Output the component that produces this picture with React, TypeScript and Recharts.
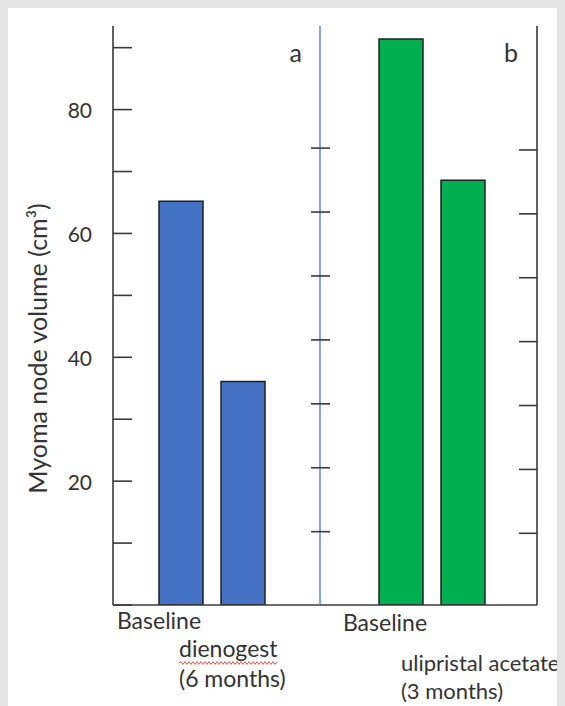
import { Bar, BarChart, Label, XAxis, YAxis } from "recharts";

// panel a: dienogest, panel b: ulipristal acetate (volume, cm3)
const panelALabels = [["Baseline"], ["dienogest", "(6 months)"]];
const panelAVolumes = [65.2, 36.1];
const panelBLabels = [["Baseline"], ["ulipristal acetate", "(3 months)"]];
const panelBVolumes = [91.4, 68.6];

const volumeTicks = [0, 10, 20, 30, 40, 50, 60, 70, 80, 90];
const volumeTickLabels = [20, 40, 60, 80];
const panelBTicks = [1, 2, 3, 4, 5, 6, 7];

const VOLUME_DOMAIN = [0, 93.5];
const FONT = "Lato, 'Open Sans', sans-serif";
const INK = "#333333";
const FRAME = "#3a3a3a";
const DIVIDER = "#5b87d6";

const panelAData = panelALabels.map((lines, i) => ({ name: lines.join(" "), lines, volume: panelAVolumes[i] }));
const panelBData = panelBLabels.map((lines, i) => ({ name: lines.join(" "), lines, volume: panelBVolumes[i] }));

function VolumeTick({ x, y, payload }: any) {
  const v = payload.value;
  return (
    <g>
      <line x1={x} x2={x + 19} y1={y} y2={y} stroke={FRAME} strokeWidth={1.6} />
      {volumeTickLabels.includes(v) && (
        <text x={x - 21} y={y} textAnchor="end" dominantBaseline="central" fontSize={21} fill={INK} fontFamily={FONT}>
          {v}
        </text>
      )}
    </g>
  );
}

function DividerTick({ x, y }: any) {
  return <line x1={x - 9} x2={x + 10} y1={y} y2={y} stroke={FRAME} strokeWidth={1.6} />;
}

function RightTick({ x, y }: any) {
  return <line x1={x - 18} x2={x} y1={y} y2={y} stroke={FRAME} strokeWidth={1.6} />;
}

// squiggly spell-check underline under a word
function squiggle(x0: number, x1: number, y: number) {
  let d = `M${x0},${y}`;
  let up = true;
  for (let x = x0 + 2; x <= x1; x += 2) {
    d += ` L${x},${y + (up ? -1.4 : 1.4)}`;
    up = !up;
  }
  return d;
}

function categoryTick(data: { lines: string[] }[], o: any) {
  return ({ x, y, index }: any) => {
    const lines = data[index]?.lines ?? [];
    if (index === 0) {
      return (
        <text x={x + o.dx0} y={y + o.dy0} textAnchor="middle" fontSize={23} fill={INK} fontFamily={FONT}>
          {lines[0]}
        </text>
      );
    }
    return (
      <g>
        {lines.map((t, i) => (
          <text key={i} x={x + o.dx1} y={y + o.dy1 + i * o.lead} textAnchor="start" fontSize={o.size} fill={INK} fontFamily={FONT}>
            {t}
          </text>
        ))}
        {o.underline && (
          <path d={squiggle(x + o.dx1, x + o.dx1 + o.underline, y + o.dy1 + 6)} stroke="#e05050" strokeWidth={1} fill="none" />
        )}
      </g>
    );
  };
}

export default function App() {
  return (
    <div style={{ position: "relative", width: 557, height: 698, background: "#ffffff" }}>
      <style>{"body{background:#e4e4e4}"}</style>

      <div style={{ position: "absolute", left: 0, top: 0 }}>
        <BarChart width={322} height={698} data={panelAData} margin={{ top: 18, right: 0, left: 0, bottom: 11 }}>
          <XAxis
            dataKey="name"
            height={90}
            padding={{ left: 37, right: 46 }}
            axisLine={{ stroke: FRAME, strokeWidth: 1.6 }}
            tickLine={false}
            tickSize={0}
            tickMargin={0}
            interval={0}
            tick={categoryTick(panelAData, { dx0: -22, dy0: 24, dx1: -64, dy1: 52, lead: 30, size: 23, underline: 98 })}
          />
          <XAxis xAxisId="top" dataKey="name" orientation="top" height={0} tick={false} tickLine={false} axisLine={{ stroke: FRAME, strokeWidth: 1.6 }} />
          <YAxis
            yAxisId="v"
            width={105}
            domain={VOLUME_DOMAIN}
            allowDataOverflow
            ticks={volumeTicks}
            interval={0}
            axisLine={{ stroke: FRAME, strokeWidth: 1.6 }}
            tickLine={false}
            tickSize={0}
            tickMargin={0}
            tick={<VolumeTick />}
          >
            <Label
              content={({ viewBox }: any) => {
                const cx = viewBox.x + 29;
                const cy = viewBox.y + viewBox.height / 2 + 33;
                return (
                  <text x={cx} y={cy} transform={`rotate(-90, ${cx}, ${cy})`} textAnchor="middle" dominantBaseline="central" fontSize={25} fill={INK} fontFamily={FONT}>
                    Myoma node volume (cm³)
                  </text>
                );
              }}
            />
          </YAxis>
          <YAxis
            yAxisId="div"
            orientation="right"
            width={10}
            domain={[-0.147, 8.91]}
            allowDataOverflow
            ticks={panelBTicks}
            interval={0}
            axisLine={{ stroke: DIVIDER, strokeWidth: 1.5 }}
            tickLine={false}
            tickSize={0}
            tickMargin={0}
            tick={<DividerTick />}
          >
            <Label
              content={({ viewBox }: any) => (
                <text x={viewBox.x - 18} y={viewBox.y + 36} textAnchor="end" fontSize={25} fill={INK} fontFamily={FONT}>
                  a
                </text>
              )}
            />
          </YAxis>
          <Bar yAxisId="v" dataKey="volume" fill="#4472C4" stroke="#1f1f1f" strokeWidth={1.5} barSize={44} isAnimationActive={false} />
        </BarChart>
      </div>

      <div style={{ position: "absolute", left: 312, top: 0 }}>
        <BarChart width={245} height={698} data={panelBData} margin={{ top: 18, right: 0, left: 0, bottom: 11 }} style={{ overflow: "visible" }}>
          <XAxis
            dataKey="name"
            height={90}
            padding={{ left: 50, right: 43 }}
            axisLine={{ stroke: FRAME, strokeWidth: 1.6 }}
            tickLine={false}
            tickSize={0}
            tickMargin={0}
            interval={0}
            tick={categoryTick(panelBData, { dx0: -16, dy0: 26, dx1: -62, dy1: 66, lead: 28, size: 22 })}
          />
          <XAxis xAxisId="top" dataKey="name" orientation="top" height={0} tick={false} tickLine={false} axisLine={{ stroke: FRAME, strokeWidth: 1.6 }} />
          <YAxis yAxisId="v" hide domain={VOLUME_DOMAIN} allowDataOverflow />
          <YAxis
            yAxisId="r"
            orientation="right"
            width={28}
            domain={[-0.122, 8.94]}
            allowDataOverflow
            ticks={panelBTicks}
            interval={0}
            axisLine={{ stroke: FRAME, strokeWidth: 1.6 }}
            tickLine={false}
            tickSize={0}
            tickMargin={0}
            tick={<RightTick />}
          >
            <Label
              content={({ viewBox }: any) => (
                <text x={viewBox.x - 19} y={viewBox.y + 36} textAnchor="end" fontSize={25} fill={INK} fontFamily={FONT}>
                  b
                </text>
              )}
            />
          </YAxis>
          <Bar yAxisId="v" dataKey="volume" fill="#00B050" stroke="#1f1f1f" strokeWidth={1.5} barSize={44} isAnimationActive={false} />
        </BarChart>
      </div>
    </div>
  );
}
